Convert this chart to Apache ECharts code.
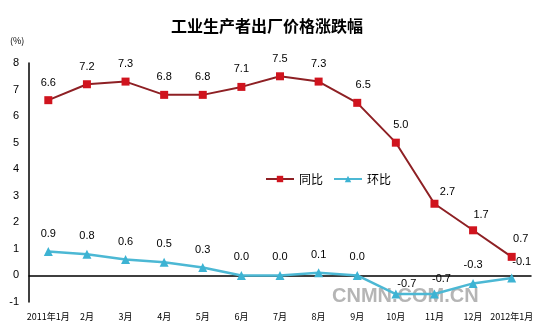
<!DOCTYPE html>
<html><head><meta charset="utf-8">
<script src="https://cdn.jsdelivr.net/npm/echarts@6/dist/echarts.min.js"></script>
<style>html,body{margin:0;padding:0;background:#fff}#c{width:543px;height:333px}</style>
</head><body><div id="c"></div>
<script>
const categories = ['2011年1月','2月','3月','4月','5月','6月','7月','8月','9月','10月','11月','12月','2012年1月'];
const yoy = [6.6,7.2,7.3,6.8,6.8,7.1,7.5,7.3,6.5,5.0,2.7,1.7,0.7];
const mom = [0.9,0.8,0.6,0.5,0.3,0.0,0.0,0.1,0.0,-0.7,-0.7,-0.3,-0.1];
const yTicks = [-1,0,1,2,3,4,5,6,7,8];

const chart = echarts.init(document.getElementById('c'));
const lblFont = {fontFamily:'Liberation Sans, Arial', fontSize:11, color:'#000'};
function pts(arr, offsets){
  return arr.map((v,i)=> offsets[i] ? {value:v, label:{offset:offsets[i]}} : v);
}
chart.setOption({
  animation:false,
  title:{text:'工业生产者出厂价格涨跌幅', left:262, top:13, textAlign:'center',
    textStyle:{fontFamily:'Noto Sans CJK SC', fontSize:16, fontWeight:'bold', color:'#000'}},
  graphic:[
    {type:'text', left:10, top:36, style:{text:'(%)', font:'9px "Noto Sans CJK SC"', fill:'#000'}},
    {type:'text', left:332, top:286, style:{text:'CNMN.COM.CN', font:'bold 20px "Liberation Sans"', fill:'rgba(120,120,120,0.55)'}}
  ],
  legend:{left:260, top:168, itemGap:10, itemWidth:28, itemHeight:8,
    textStyle:{fontFamily:'Noto Sans CJK SC', fontSize:12, color:'#000'},
    data:['同比','环比']},
  grid:{left:29, right:12, top:63, bottom:31},
  xAxis:{type:'category', data:categories, boundaryGap:true,
    axisLine:{lineStyle:{color:'#000', width:1.5}},
    axisTick:{inside:true, length:4, lineStyle:{color:'#000'}},
    axisLabel:{fontFamily:'Noto Sans CJK SC', fontSize:9, color:'#000', interval:0, margin:10}},
  yAxis:{type:'value', min:yTicks[0], max:yTicks[yTicks.length-1], interval:1,
    splitLine:{show:false},
    axisLine:{show:true, lineStyle:{color:'#000', width:1.5}},
    axisTick:{show:false},
    axisLabel:{fontFamily:'Liberation Sans, Arial', fontSize:11, color:'#000', margin:10}},
  series:[
    {name:'同比', type:'line',
      data:pts(yoy,{8:[6,0],9:[5,0],10:[13,6],11:[8,2],12:[9,0]}),
      symbol:'rect', symbolSize:8,
      lineStyle:{color:'#8E2024', width:2}, itemStyle:{color:'#D0141E'},
      label:{show:true, position:'top', distance:8, formatter:p=>p.value.toFixed(1), ...lblFont}},
    {name:'环比', type:'line',
      data:pts(mom,{9:[11,8],10:[7,3],12:[10,2]}),
      symbol:'triangle', symbolSize:9,
      lineStyle:{color:'#4CB8D4', width:2.5}, itemStyle:{color:'#3DB3D3'},
      label:{show:true, position:'top', distance:8, formatter:p=>p.value.toFixed(1), ...lblFont}}
  ]
});
</script></body></html>
